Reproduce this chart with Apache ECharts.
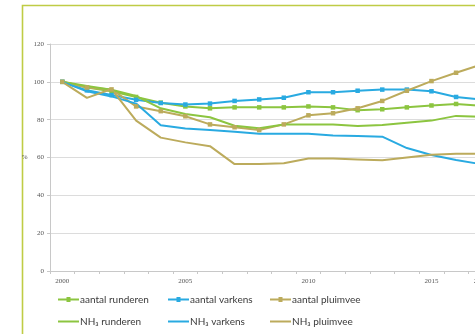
<!DOCTYPE html>
<html>
<head>
<meta charset="utf-8">
<script src="https://cdn.jsdelivr.net/npm/echarts@6/dist/echarts.min.js"></script>
<style>
html,body{margin:0;padding:0;background:#fff;overflow:hidden;width:475px;height:334px;}
#chart{position:absolute;left:0;top:0;width:620px;height:334px;}
</style>
</head>
<body>
<div id="chart"></div>
<script>
const years = ['2000','2001','2002','2003','2004','2005','2006','2007','2008','2009','2010','2011','2012','2013','2014','2015','2016','2017'];
const yTicks = [0, 20, 40, 60, 80, 100, 120];
const aantalRunderen = [100, 97, 95, 92, 89, 87, 86, 86.5, 86.5, 86.5, 87, 86.5, 85, 85.5, 86.5, 87.5, 88.3, 87.3];
const aantalVarkens  = [100, 95.5, 93, 90.5, 88.8, 88, 88.5, 89.9, 90.7, 91.6, 94.5, 94.5, 95.3, 95.9, 95.9, 95, 92, 90.7];
const aantalPluimvee = [100, 97, 96, 87, 84.5, 81.8, 77.5, 76, 74.5, 77.5, 82.3, 83.4, 86, 89.9, 95.3, 100.4, 104.8, 109];
const nh3Runderen    = [100, 97.8, 95.8, 92.5, 86, 83, 81.3, 76.8, 75.5, 77.5, 77.5, 77.5, 76.6, 77.2, 78.4, 79.5, 82, 81.5];
const nh3Varkens     = [100, 95, 92.3, 88.5, 77, 75.3, 74.5, 73.6, 72.5, 72.5, 72.5, 71.6, 71.3, 71, 65, 61.3, 58.7, 56.5];
const nh3Pluimvee    = [100, 91.5, 96.2, 79.5, 70.5, 68, 66, 56.5, 56.5, 57, 59.5, 59.5, 59, 58.5, 60, 61.5, 62, 62];

const GREEN = '#8cc540', BLUE = '#29aae1', OLIVE = '#bcab5c';
const names = ['aantal runderen','aantal varkens','aantal pluimvee','NH₃ runderen','NH₃ varkens','NH₃ pluimvee'];
const datas = [aantalRunderen, aantalVarkens, aantalPluimvee, nh3Runderen, nh3Varkens, nh3Pluimvee];
const colors = [GREEN, BLUE, OLIVE, GREEN, BLUE, OLIVE];

const series = names.map((n, i) => ({
  name: n,
  type: 'line',
  data: datas[i],
  symbol: i < 3 ? 'rect' : 'none',
  symbolSize: 4.5,
  showSymbol: i < 3,
  lineStyle: { width: 2, color: colors[i] },
  itemStyle: { color: colors[i] },
  emphasis: { disabled: true },
  animation: false,
  z: 3
}));

const markerIcon = 'path://M0,2 L21,2 L21,4 L0,4 Z M8.5,0.5 L12.5,0.5 L12.5,5.5 L8.5,5.5 Z';
const legendPos = [[58, 294.5], [168, 294.5], [270, 294.5], [58, 316.5], [168, 316.5], [270, 316.5]];
const legends = names.map((n, i) => ({
  data: [{ name: n, icon: i < 3 ? markerIcon : 'rect' }],
  left: legendPos[i][0],
  top: legendPos[i][1],
  itemWidth: 21,
  itemHeight: i < 3 ? 5 : 2,
  padding: 0,
  selectedMode: false,
  textStyle: { fontFamily: 'Lato', fontSize: 10, color: '#3a3a3a', padding: [0, 0, 0, -4] }
}));

const chart = echarts.init(document.getElementById('chart'), null, { renderer: 'canvas' });
chart.setOption({
  animation: false,
  backgroundColor: 'transparent',
  graphic: [{
    type: 'rect',
    shape: { x: 22.5, y: 5.5, width: 700, height: 400 },
    style: { fill: 'none', stroke: '#bfcc45', lineWidth: 1.6 },
    z: 0, silent: true
  }],
  grid: { left: 50, top: 44, width: 443, height: 227, containLabel: false },
  legend: legends,
  xAxis: {
    type: 'category',
    data: years,
    boundaryGap: true,
    axisLine: { lineStyle: { color: '#c8c8c8', width: 1 } },
    axisTick: { show: true, interval: 0, length: 3, lineStyle: { color: '#c8c8c8' } },
    axisLabel: {
      interval: (idx) => idx % 5 === 0 || idx === years.length - 1,
      fontSize: 7, color: '#555', fontFamily: 'Liberation Serif', margin: 7
    },
    splitLine: { show: false }
  },
  yAxis: {
    type: 'value',
    min: yTicks[0], max: yTicks[yTicks.length - 1], interval: 20,
    name: '%', nameLocation: 'middle', nameRotate: 0, nameGap: 16,
    nameTextStyle: { fontSize: 7, color: '#555', fontFamily: 'Liberation Serif' },
    axisLine: { show: true, lineStyle: { color: '#c8c8c8', width: 1 } },
    axisTick: { show: true, length: 3, lineStyle: { color: '#c8c8c8' } },
    axisLabel: { fontSize: 7, color: '#555', fontFamily: 'Liberation Serif', margin: 6 },
    splitLine: { show: true, lineStyle: { color: '#dcdcdc', width: 1 } }
  },
  series: series
});
</script>
</body>
</html>
